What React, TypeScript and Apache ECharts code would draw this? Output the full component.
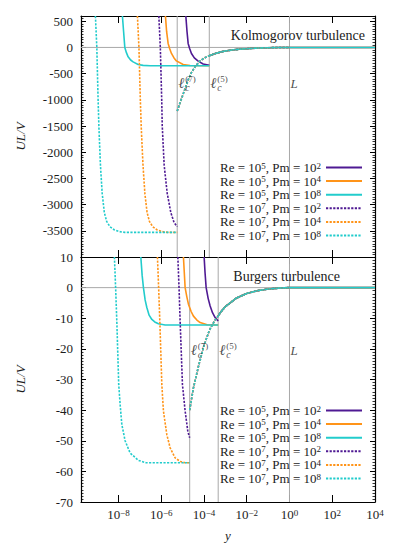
import React, { useEffect, useRef } from 'react';
import * as echarts from 'echarts';

// ---------- data (x values are log10 of y) ----------
const xTickExps = [-8, -6, -4, -2, 0, 2, 4];
const X_MIN = -9.75;
const X_MAX = 4;

const kolYTicks = { min: -4000, max: 600, step: 500, minor: 50 };
const burYTicks = { min: -70, max: 10, step: 10, minor: 1 };

const kolLc7 = -5.25;
const kolLc5 = -3.75;
const burLc7 = -14 / 3;
const burLc5 = -10 / 3;
const logL = 0;

const seriesNames = [
  'Re = 10^5, Pm = 10^2',
  'Re = 10^5, Pm = 10^4',
  'Re = 10^5, Pm = 10^8',
  'Re = 10^7, Pm = 10^2',
  'Re = 10^7, Pm = 10^4',
  'Re = 10^7, Pm = 10^8',
];

// Kolmogorov turbulence
const kolCommon = [
  [-5.25, -1215], [-5.07, -1000], [-4.893, -800], [-4.74, -620], [-4.585, -480],
  [-4.4, -360], [-4.19, -260], [-4.0, -205], [-3.75, -160], [-3.5, -120],
  [-3.25, -90], [-3.0, -68], [-2.62, -45], [-2.2, -30], [-1.84, -19],
  [-1.45, -11], [-1.06, -6], [-0.5, -1.5], [0, 0],
];
const kolRe5Pm2 = [
  [-4.847, 600], [-4.791, 300], [-4.739, 77], [-4.669, -20], [-4.585, -115],
  [-4.45, -200], [-4.271, -262], [-4.037, -315], [-3.75, -339],
];
const kolRe5Pm4 = [
  [-5.801, 600], [-5.745, 300], [-5.675, 77], [-5.605, -20], [-5.52, -115],
  [-5.4, -200], [-5.287, -257], [-4.973, -326], [-4.646, -345], [-3.75, -350],
];
const kolRe5Pm8 = [
  [-7.813, 600], [-7.757, 300], [-7.701, 0], [-7.626, -100], [-7.546, -180],
  [-7.429, -240], [-7.312, -276], [-7.078, -326], [-6.845, -343], [-6.517, -350], [-3.75, -350],
];
const kolRe7Pm2 = [
  [-6.11, 600], [-6.04, 0], [-5.975, -1000], [-5.95, -1500], [-5.86, -2250],
  [-5.72, -2780], [-5.55, -3150], [-5.4, -3340], [-5.25, -3420],
];
const kolRe7Pm4 = [
  [-7.111, 600], [-7.04, 0], [-6.975, -1000], [-6.93, -1550], [-6.85, -2250],
  [-6.76, -2800], [-6.66, -3150], [-6.55, -3320], [-6.4, -3420], [-6.2, -3480],
  [-5.95, -3515], [-5.7, -3530], [-5.25, -3530],
];
const kolRe7Pm8 = [
  [-9.076, 600], [-9.01, 0], [-8.95, -1000], [-8.91, -1550], [-8.84, -2250],
  [-8.76, -2780], [-8.66, -3150], [-8.55, -3320], [-8.4, -3420], [-8.2, -3480],
  [-7.95, -3515], [-7.7, -3530], [-5.25, -3530],
];

// Burgers turbulence
const burCommon = [
  [-4.667, -40], [-4.5, -33], [-4.25, -25.5], [-4.0, -19], [-3.75, -14],
  [-3.5, -10.8], [-3.333, -9.3], [-3.25, -8.3], [-3.0, -6.2], [-2.5, -3.5],
  [-2.0, -1.9], [-1.5, -1.0], [-1.0, -0.45], [-0.5, -0.15], [0, 0],
];
const burRe5Pm2 = [
  [-3.991, 10], [-3.95, 5], [-3.897, 0], [-3.804, -3.5], [-3.71, -6],
  [-3.6, -8.2], [-3.476, -9.8], [-3.333, -10.9],
];
const burRe5Pm4 = [
  [-4.959, 10], [-4.92, 5], [-4.88, 0], [-4.8, -3], [-4.725, -5.4],
  [-4.6, -7.8], [-4.491, -9.3], [-4.33, -10.6], [-4.178, -11.4], [-3.85, -12.1], [-3.333, -12.2],
];
const burRe5Pm8 = [
  [-6.952, 10], [-6.89, 4], [-6.83, 0], [-6.751, -4], [-6.671, -6.5],
  [-6.564, -9], [-6.437, -10.4], [-6.3, -11.2], [-6.129, -11.8], [-5.815, -12.2], [-3.333, -12.2],
];
const burRe7Pm2 = [
  [-5.221, 10], [-5.165, 0], [-5.114, -10.9], [-5.006, -31.6], [-4.88, -40.3],
  [-4.753, -47], [-4.667, -49],
];
const burRe7Pm4 = [
  [-6.175, 10], [-6.119, 0], [-6.063, -11], [-5.97, -31.6], [-5.895, -40.3],
  [-5.736, -48], [-5.581, -52.3], [-5.347, -55.6], [-5.1, -56.8], [-4.88, -57.2], [-4.667, -57.2],
];
const burRe7Pm8 = [
  [-8.187, 10], [-8.131, 0], [-8.075, -11], [-7.986, -31.6], [-7.921, -38],
  [-7.841, -44.7], [-7.687, -50], [-7.453, -54], [-7.064, -56.4], [-6.704, -57.2], [-4.667, -57.2],
];

// ---------- styles ----------
const FONT = 'Liberation Serif';
const INK = '#1c1c1c';
const PURPLE = '#4f1a93';
const ORANGE = '#ff9419';
const CYAN = '#22cccc';
const GRAY = '#a8a8a8';
const DOT = [2.2, 1.4];

const defs = [
  { name: seriesNames[0], color: PURPLE, dotted: false, kol: kolRe5Pm2, bur: burRe5Pm2 },
  { name: seriesNames[1], color: ORANGE, dotted: false, kol: kolRe5Pm4, bur: burRe5Pm4 },
  { name: seriesNames[2], color: CYAN, dotted: false, kol: kolRe5Pm8, bur: burRe5Pm8 },
  { name: seriesNames[3], color: PURPLE, dotted: true, kol: kolRe7Pm2, bur: burRe7Pm2 },
  { name: seriesNames[4], color: ORANGE, dotted: true, kol: kolRe7Pm4, bur: burRe7Pm4 },
  { name: seriesNames[5], color: CYAN, dotted: true, kol: kolRe7Pm8, bur: burRe7Pm8 },
];

const richExp: any = {
  b: { fontFamily: FONT, fontSize: 13, lineHeight: 13, verticalAlign: 'bottom', color: INK },
  s: { fontFamily: FONT, fontSize: 9, lineHeight: 9, verticalAlign: 'top', padding: [0, 0, 6, 0], color: INK },
};

const toRich = (s: string) =>
  s.split(/\^(\d+)/).map((p, i) => (i % 2 ? `{s|${p}}` : p ? `{b|${p}}` : '')).join('');

const expLabel = (v: number) => {
  if (!xTickExps.includes(v)) return '';
  const e = v < 0 ? '\u2212' + -v : String(v);
  return `{b|10}{s|${e}}`;
};

function panelSeries(panel: number) {
  const xi = panel === 0 ? 0 : 2;
  const yi = panel === 0 ? 0 : 4;
  const yr = panel === 0 ? kolYTicks : burYTicks;
  const common = panel === 0 ? kolCommon : burCommon;
  const lc7 = panel === 0 ? kolLc7 : burLc7;
  const lc5 = panel === 0 ? kolLc5 : burLc5;
  const out: any[] = [];
  const guide = (data: number[][]) => ({
    type: 'line', xAxisIndex: xi, yAxisIndex: yi, data, symbol: 'none', silent: true, z: 1,
    lineStyle: { color: GRAY, width: 1 },
  });
  [lc7, lc5, logL].forEach((v) => out.push(guide([[v, yr.min], [v, yr.max]])));
  out.push(guide([[X_MIN, 0], [X_MAX, 0]]));
  defs.forEach((d) => {
    const inner = panel === 0 ? d.kol : d.bur;
    const lc = d.dotted ? lc7 : lc5;
    const outer = common.filter((p) => p[0] >= lc - 0.01);
    const tail = d.dotted ? [] : [[X_MAX, 0]];
    out.push({
      type: 'line', name: d.name, xAxisIndex: xi, yAxisIndex: yi,
      data: [...inner, [lc, '-'], ...outer, ...tail],
      symbol: 'none', showSymbol: false, connectNulls: false, silent: true, z: 2,
      lineStyle: { color: d.color, width: 1.6, type: d.dotted ? DOT : 'solid' },
      itemStyle: { color: d.color },
    });
  });
  // scale labels
  const ly = panel === 0 ? -684 : -20.4;
  const items: any[] = [];
  [[lc7, '(7)'], [lc5, '(5)']].forEach(([x, idx]) => {
    items.push({
      value: [x, ly],
      label: { show: true, position: 'right', distance: 1, formatter: '\u2113', fontFamily: FONT, fontStyle: 'italic', fontSize: 15, color: INK },
    });
    items.push({
      value: [x, ly],
      label: {
        show: true, position: 'right', distance: 8, formatter: `{p|${idx}}\n{c|c}`, align: 'left',
        rich: {
          p: { fontFamily: FONT, fontSize: 9, lineHeight: 9, color: INK, align: 'left' },
          c: { fontFamily: FONT, fontSize: 10, lineHeight: 9, fontStyle: 'italic', color: INK, align: 'left' },
        },
      },
    });
  });
  items.push({
    value: [logL, ly],
    label: { show: true, position: 'right', distance: 1, formatter: 'L', fontFamily: FONT, fontStyle: 'italic', fontSize: 13, color: INK },
  });
  out.push({ type: 'scatter', xAxisIndex: xi, yAxisIndex: yi, symbolSize: 0, data: items, z: 5, silent: true });
  return out;
}

const axisLine = { show: true, onZero: false, lineStyle: { color: '#000', width: 1.2 } };

function xAxes(gridIndex: number, withLabels: boolean) {
  const base = {
    type: 'value', gridIndex, min: X_MIN, max: X_MAX, splitLine: { show: false },
    axisLine,
    axisTick: { show: true, inside: true, length: 7, customValues: xTickExps, lineStyle: { color: '#000', width: 1 } },
  };
  return [
    {
      ...base, position: 'bottom',
      axisLabel: withLabels
        ? { show: true, customValues: xTickExps, formatter: expLabel, rich: richExp, margin: 6 }
        : { show: false },
      name: withLabels ? 'y' : '', nameLocation: 'middle', nameGap: 27,
      nameTextStyle: { fontFamily: FONT, fontStyle: 'italic', fontSize: 13, color: INK },
    },
    { ...base, position: 'top', axisLabel: { show: false } },
  ];
}

function yAxes(gridIndex: number, r: any, hide: number[]) {
  const mk = (position: string, major: boolean, labels: boolean) => ({
    type: 'value', gridIndex, position, min: r.min, max: r.max,
    interval: major ? r.step : r.minor,
    splitLine: { show: false },
    axisLine: major ? axisLine : { show: false, onZero: false },
    axisTick: { show: true, inside: true, length: major ? 5 : 2.5, lineStyle: { color: '#000', width: major ? 1 : 0.8 } },
    axisLabel: labels
      ? { show: true, margin: 8, fontFamily: FONT, fontSize: 13, color: INK, formatter: (v: number) => (hide.includes(v) ? '' : String(v)) }
      : { show: false },
    name: labels ? 'UL/V' : '', nameLocation: 'middle', nameGap: 54, nameRotate: 90,
    nameTextStyle: { fontFamily: FONT, fontStyle: 'italic', fontSize: 13, color: INK },
  });
  return [mk('left', true, true), mk('left', false, false), mk('right', true, false), mk('right', false, false)];
}

const legendBase = (top: number) => ({
  data: seriesNames, orient: 'vertical', align: 'right', right: 36, top, padding: 0,
  itemWidth: 36, itemHeight: 10, itemGap: -1.4, selectedMode: false,
  itemStyle: { opacity: 0 },
  formatter: (n: string) => toRich(n),
  textStyle: { fontFamily: FONT, fontSize: 13, color: INK, rich: richExp },
});

export default function App() {
  const ref = useRef<HTMLDivElement>(null);
  useEffect(() => {
    if (!ref.current) return;
    const chart = echarts.init(ref.current, undefined, { renderer: 'svg' });
    chart.setOption({
      animation: false,
      backgroundColor: '#fff',
      title: [
        { text: 'Kolmogorov turbulence', right: 34, top: 28, padding: 0, textStyle: { fontFamily: FONT, fontSize: 14, fontWeight: 'normal', color: INK } },
        { text: 'Burgers turbulence', right: 59, top: 269, padding: 0, textStyle: { fontFamily: FONT, fontSize: 14, fontWeight: 'normal', color: INK } },
      ],
      grid: [
        { left: 81, right: 24, top: 16, height: 241 },
        { left: 81, right: 24, top: 257, height: 245 },
      ],
      legend: [legendBase(161), legendBase(404)],
      xAxis: [...xAxes(0, false), ...xAxes(1, true)],
      yAxis: [...yAxes(0, kolYTicks, [-4000, 600]), ...yAxes(1, burYTicks, [])],
      series: [...panelSeries(0), ...panelSeries(1)],
    });
    return () => chart.dispose();
  }, []);
  return <div ref={ref} style={{ position: 'absolute', left: 0, top: 0, width: 399, height: 543 }} />;
}
